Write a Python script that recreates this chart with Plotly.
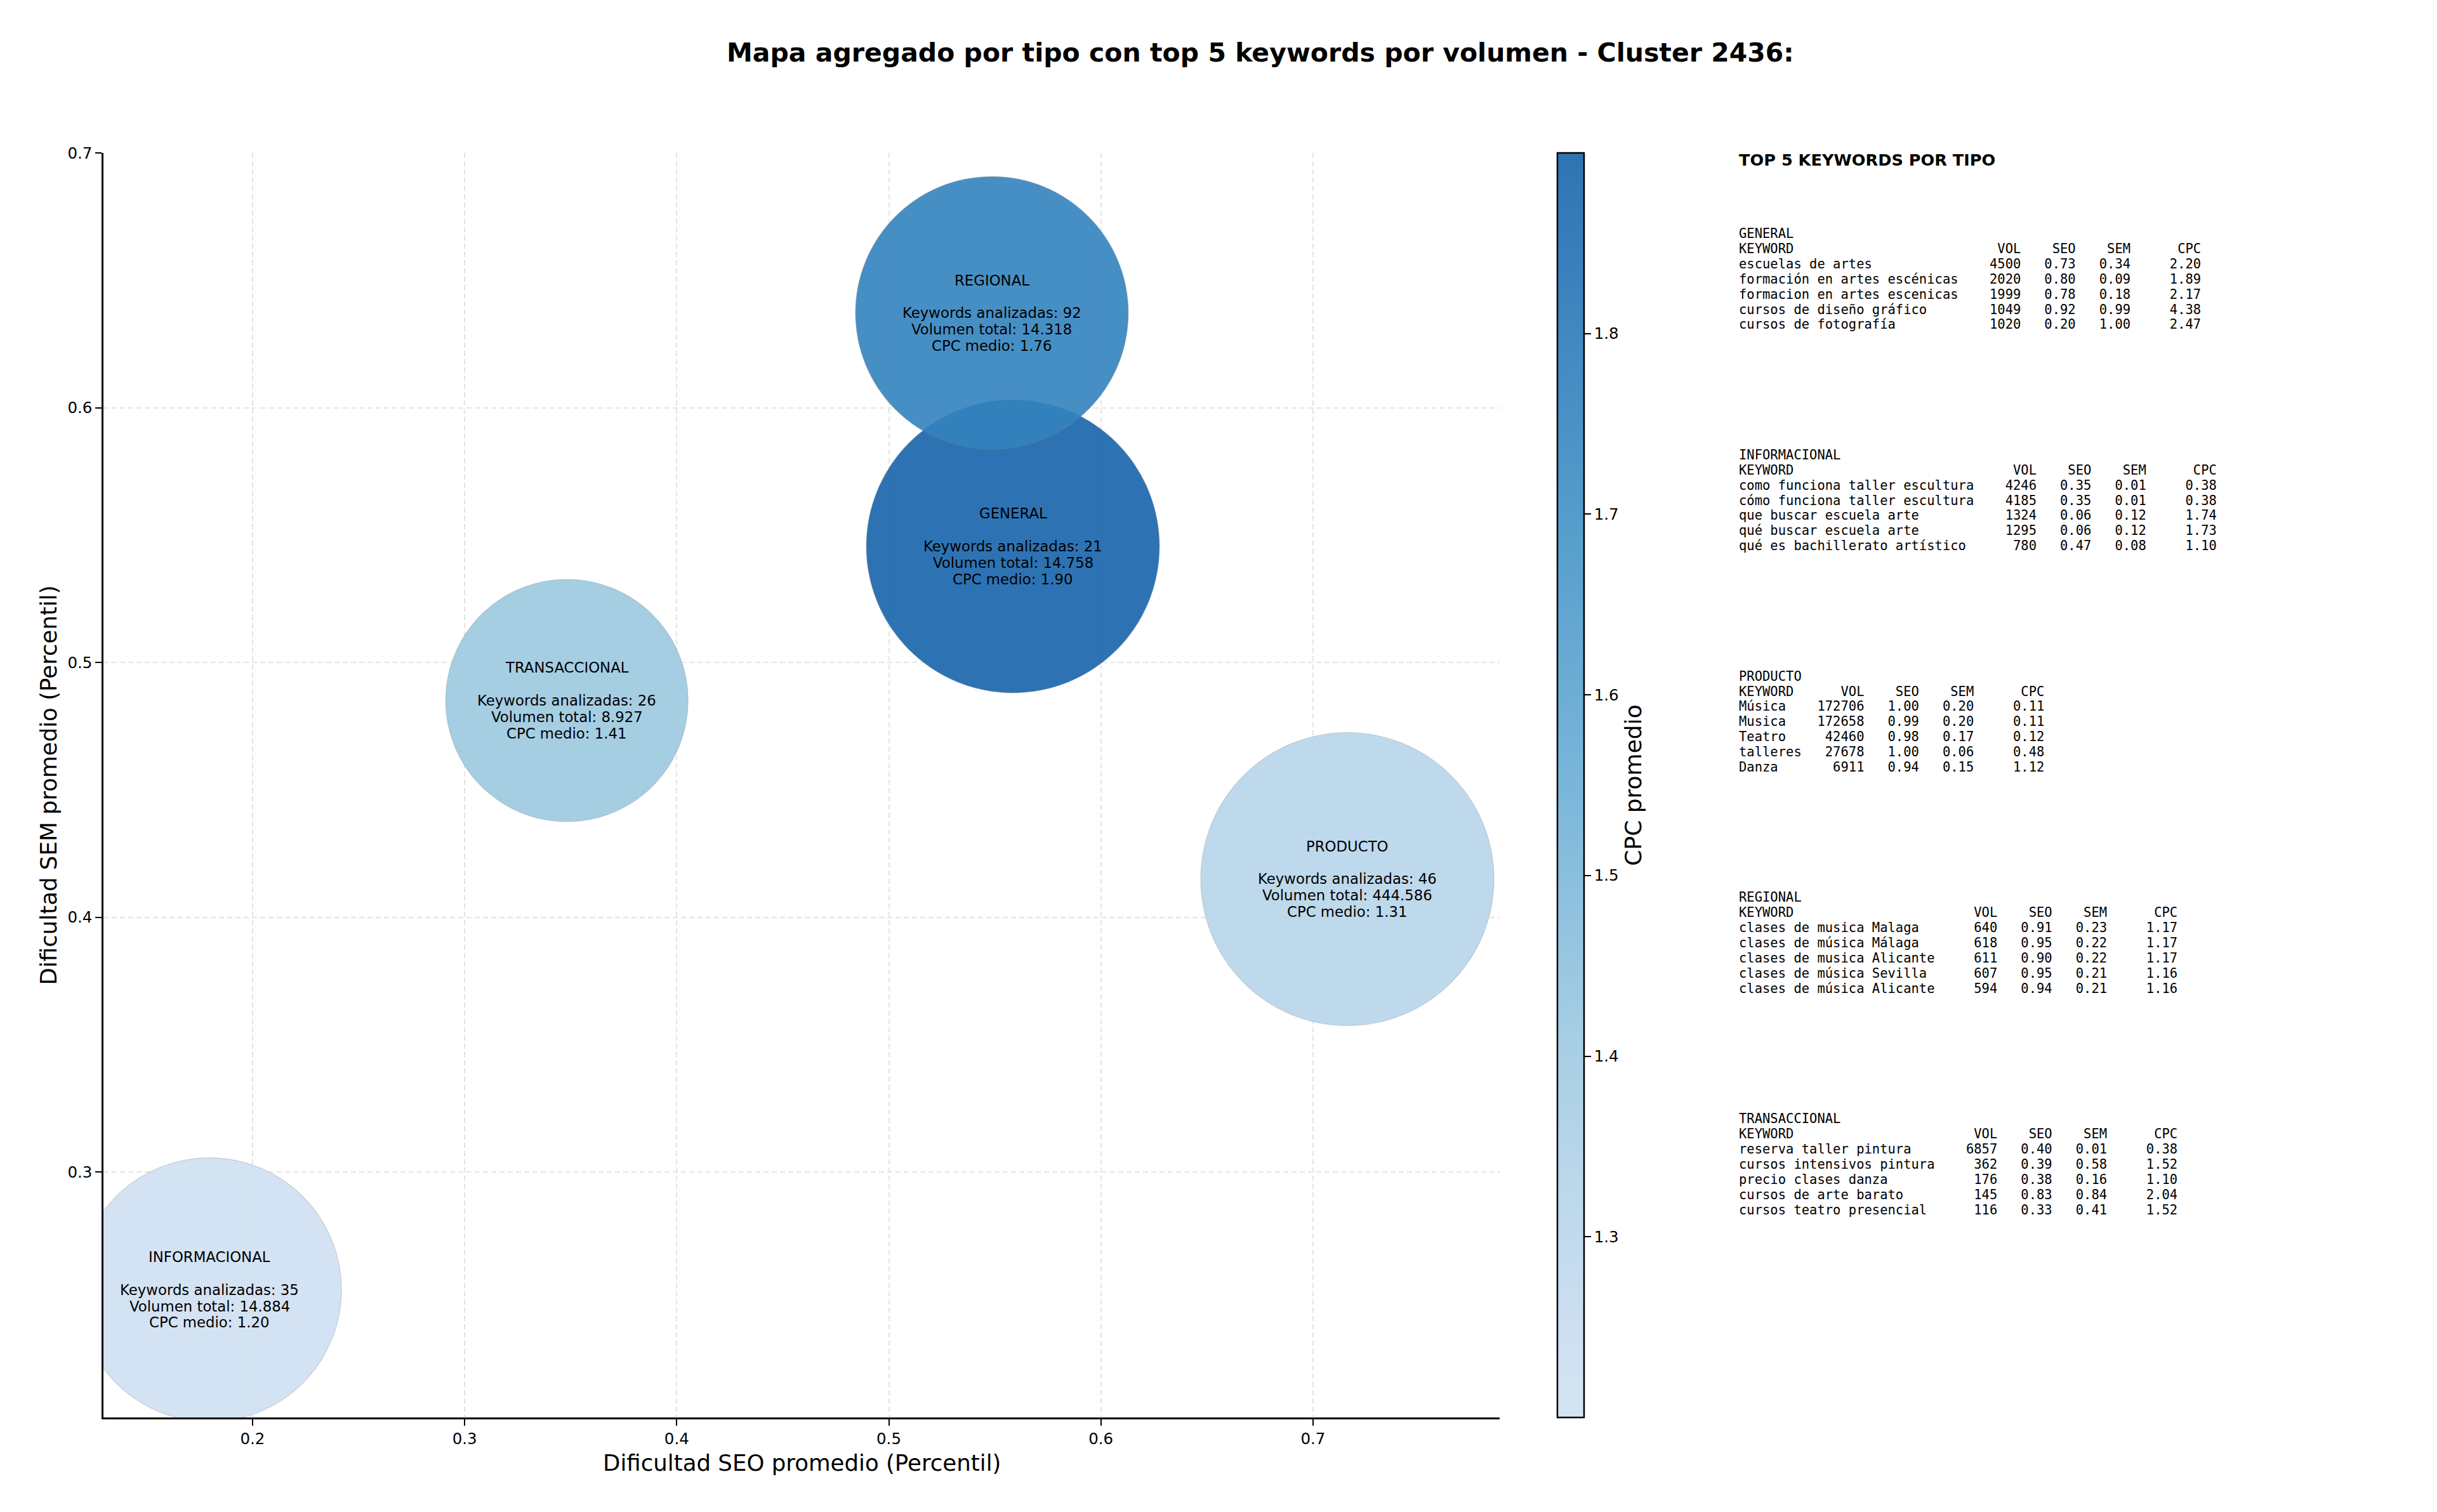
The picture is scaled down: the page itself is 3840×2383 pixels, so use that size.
import plotly.graph_objects as go

# ---------------- DATA ----------------
types = ["GENERAL", "INFORMACIONAL", "PRODUCTO", "REGIONAL", "TRANSACCIONAL"]
seo_avg = [0.5585, 0.1797, 0.7162, 0.5486, 0.3482]
sem_avg = [0.5456, 0.2538, 0.4150, 0.6372, 0.4851]
n_keywords = [21, 35, 46, 92, 26]
total_volume = [14758, 14884, 444586, 14318, 8927]
cpc_avg = [1.90, 1.20, 1.31, 1.76, 1.41]

x_ticks = [0.2, 0.3, 0.4, 0.5, 0.6, 0.7]
y_ticks = [0.3, 0.4, 0.5, 0.6, 0.7]
cbar_ticks = [1.3, 1.4, 1.5, 1.6, 1.7, 1.8]

general_kw = ["escuelas de artes", "formación en artes escénicas", "formacion en artes escenicas",
              "cursos de diseño gráfico", "cursos de fotografía"]
general_vol = [4500, 2020, 1999, 1049, 1020]
general_seo = [0.73, 0.80, 0.78, 0.92, 0.20]
general_sem = [0.34, 0.09, 0.18, 0.99, 1.00]
general_cpc = [2.20, 1.89, 2.17, 4.38, 2.47]

informacional_kw = ["como funciona taller escultura", "cómo funciona taller escultura",
                    "que buscar escuela arte", "qué buscar escuela arte", "qué es bachillerato artístico"]
informacional_vol = [4246, 4185, 1324, 1295, 780]
informacional_seo = [0.35, 0.35, 0.06, 0.06, 0.47]
informacional_sem = [0.01, 0.01, 0.12, 0.12, 0.08]
informacional_cpc = [0.38, 0.38, 1.74, 1.73, 1.10]

producto_kw = ["Música", "Musica", "Teatro", "talleres", "Danza"]
producto_vol = [172706, 172658, 42460, 27678, 6911]
producto_seo = [1.00, 0.99, 0.98, 1.00, 0.94]
producto_sem = [0.20, 0.20, 0.17, 0.06, 0.15]
producto_cpc = [0.11, 0.11, 0.12, 0.48, 1.12]

regional_kw = ["clases de musica Malaga", "clases de música Málaga", "clases de musica Alicante",
               "clases de música Sevilla", "clases de música Alicante"]
regional_vol = [640, 618, 611, 607, 594]
regional_seo = [0.91, 0.95, 0.90, 0.95, 0.94]
regional_sem = [0.23, 0.22, 0.22, 0.21, 0.21]
regional_cpc = [1.17, 1.17, 1.17, 1.16, 1.16]

transaccional_kw = ["reserva taller pintura", "cursos intensivos pintura", "precio clases danza",
                    "cursos de arte barato", "cursos teatro presencial"]
transaccional_vol = [6857, 362, 176, 145, 116]
transaccional_seo = [0.40, 0.39, 0.38, 0.83, 0.33]
transaccional_sem = [0.01, 0.58, 0.16, 0.84, 0.41]
transaccional_cpc = [0.38, 1.52, 1.10, 2.04, 1.52]

# ---------------- STYLE ----------------
W, H = 3840, 2383
PL, PR, PT, PB = 163, 2363, 241, 2234
X_RANGE = [0.1297, 0.788]
Y_RANGE = [0.2037, 0.700]
BUBBLE_DIAM = {"GENERAL": 462, "INFORMACIONAL": 416, "PRODUCTO": 462,
               "REGIONAL": 430, "TRANSACCIONAL": 382}
ALPHA = 0.9
FONT = "DejaVu Sans"
MONO = "DejaVu Sans Mono"
TICK_SIZE = 24.5

BLUES = [(0.000, (247, 251, 255)), (0.125, (222, 235, 247)), (0.250, (198, 219, 239)),
         (0.375, (158, 202, 225)), (0.500, (107, 174, 214)), (0.625, (66, 146, 198)),
         (0.750, (33, 113, 181)), (0.875, (8, 81, 156)), (1.000, (8, 48, 107))]


def blues(t):
    for (a, ca), (b, cb) in zip(BLUES[:-1], BLUES[1:]):
        if a <= t <= b:
            f = (t - a) / (b - a)
            return tuple(ca[i] + f * (cb[i] - ca[i]) for i in range(3))
    return BLUES[-1][1]


n_steps = 21
raw_scale, blend_scale = [], []
for k in range(n_steps):
    t = k / (n_steps - 1)
    c = blues(0.2 + 0.6 * t)
    raw_scale.append([t, "rgb(%d,%d,%d)" % tuple(round(v) for v in c)])
    cb = tuple(ALPHA * v + (1 - ALPHA) * 255 for v in c)
    blend_scale.append([t, "rgb(%d,%d,%d)" % tuple(round(v) for v in cb)])

cmin, cmax = min(cpc_avg), max(cpc_avg)

fig = go.Figure()

# bubbles
fig.add_trace(go.Scatter(
    x=seo_avg, y=sem_avg, mode="markers",
    marker=dict(size=[BUBBLE_DIAM[t] for t in types], sizemode="diameter",
                color=cpc_avg, colorscale=raw_scale, cmin=cmin, cmax=cmax,
                opacity=ALPHA, showscale=False,
                line=dict(color="rgba(128,128,128,0.35)", width=1.2)),
    hoverinfo="skip", cliponaxis=True, showlegend=False))

# colorbar holder
fig.add_trace(go.Scatter(
    x=seo_avg, y=sem_avg, mode="markers",
    marker=dict(size=1, opacity=0, color=cpc_avg, colorscale=blend_scale, cmin=cmin, cmax=cmax,
                showscale=True,
                colorbar=dict(
                    thickness=42, thicknessmode="pixels",
                    len=PB - PT, lenmode="pixels",
                    x=2454 / W, xanchor="left", xpad=0,
                    y=1 - (PT + PB) / 2 / H, yanchor="middle", ypad=0,
                    outlinewidth=2.5, outlinecolor="black",
                    ticks="outside", ticklen=10, tickwidth=2, tickcolor="black",
                    tickvals=cbar_ticks, ticktext=["%.1f" % v for v in cbar_ticks],
                    tickfont=dict(family=FONT, size=TICK_SIZE, color="black"),
                    title=dict(text="CPC promedio", side="right",
                               font=dict(family=FONT, size=36, color="black")))),
    hoverinfo="skip", showlegend=False))

axis_common = dict(showline=True, linecolor="black", linewidth=2.5, mirror=False,
                   ticks="outside", ticklen=10, tickwidth=2, tickcolor="black",
                   tickfont=dict(family=FONT, size=TICK_SIZE, color="black"),
                   showgrid=True, gridcolor="#e4e4e4", gridwidth=1.5, griddash="8px,5px",
                   zeroline=False, automargin=False)

fig.update_layout(
    width=W, height=H, margin=dict(l=0, r=0, t=0, b=0),
    paper_bgcolor="white", plot_bgcolor="white", showlegend=False,
    xaxis=dict(domain=[PL / W, PR / W], range=X_RANGE,
               tickvals=x_ticks, ticktext=["%.1f" % v for v in x_ticks], **axis_common),
    yaxis=dict(domain=[1 - PB / H, 1 - PT / H], range=Y_RANGE,
               tickvals=y_ticks, ticktext=["%.1f" % v for v in y_ticks], **axis_common),
)

ann = []


def thousands(v):
    return "{:,}".format(v).replace(",", ".")


# bubble labels
LINE_PX = 25.8
for i, t in enumerate(types):
    lines = [t, "", "Keywords analizadas: %d" % n_keywords[i],
             "Volumen total: %s" % thousands(total_volume[i]),
             "CPC medio: %.2f" % cpc_avg[i]]
    for k, txt in enumerate(lines):
        if not txt:
            continue
        ann.append(dict(x=seo_avg[i], y=sem_avg[i], xref="x", yref="y", text=txt,
                        showarrow=False, xanchor="center", yanchor="middle",
                        yshift=-(k - 2) * LINE_PX,
                        font=dict(family=FONT, size=22.8, color="black")))

# titles
ann.append(dict(x=1986 / W, y=1 - 83 / H, xref="paper", yref="paper",
                text="<b>Mapa agregado por tipo con top 5 keywords por volumen - Cluster 2436:</b>",
                showarrow=False, xanchor="center", yanchor="middle",
                font=dict(family=FONT, size=41, color="black")))
ann.append(dict(x=(PL + PR) / 2 / W, y=1 - 2305 / H, xref="paper", yref="paper",
                text="Dificultad SEO promedio (Percentil)", showarrow=False,
                xanchor="center", yanchor="middle",
                font=dict(family=FONT, size=35.6, color="black")))
ann.append(dict(x=76 / W, y=1 - (PT + PB) / 2 / H, xref="paper", yref="paper",
                text="Dificultad SEM promedio (Percentil)", showarrow=False, textangle=-90,
                xanchor="center", yanchor="middle",
                font=dict(family=FONT, size=35.6, color="black")))

# right panel
PANEL_X = 2738
ann.append(dict(x=PANEL_X / W, y=1 - 252 / H, xref="paper", yref="paper",
                text="<b>TOP 5 KEYWORDS POR TIPO</b>", showarrow=False,
                xanchor="left", yanchor="middle",
                font=dict(family=FONT, size=25.6, color="black")))

tables = [
    ("GENERAL", general_kw, general_vol, general_seo, general_sem, general_cpc),
    ("INFORMACIONAL", informacional_kw, informacional_vol, informacional_seo, informacional_sem, informacional_cpc),
    ("PRODUCTO", producto_kw, producto_vol, producto_seo, producto_sem, producto_cpc),
    ("REGIONAL", regional_kw, regional_vol, regional_seo, regional_sem, regional_cpc),
    ("TRANSACCIONAL", transaccional_kw, transaccional_vol, transaccional_seo, transaccional_sem, transaccional_cpc),
]
BLOCK_Y0, BLOCK_STEP, MONO_LINE = 368, 348.8, 23.9
for b, (name, kws, vols, seos, sems, cpcs) in enumerate(tables):
    w = max(len(k) for k in kws)
    rows = [name, f"{'KEYWORD':<{w}} {'VOL':>7} {'SEO':>6} {'SEM':>6} {'CPC':>8}"]
    for kw, v, s1, s2, c in zip(kws, vols, seos, sems, cpcs):
        rows.append(f"{kw:<{w}} {v:>7} {s1:>6.2f} {s2:>6.2f} {c:>8.2f}")
    for r, line in enumerate(rows):
        ypx = BLOCK_Y0 + b * BLOCK_STEP + r * MONO_LINE
        ann.append(dict(x=PANEL_X / W, y=1 - ypx / H, xref="paper", yref="paper",
                        text=line.replace(" ", "\u00a0"), showarrow=False,
                        xanchor="left", yanchor="middle",
                        font=dict(family=MONO, size=20.5, color="black")))

fig.update_layout(annotations=ann)
fig.write_html("out.html")
